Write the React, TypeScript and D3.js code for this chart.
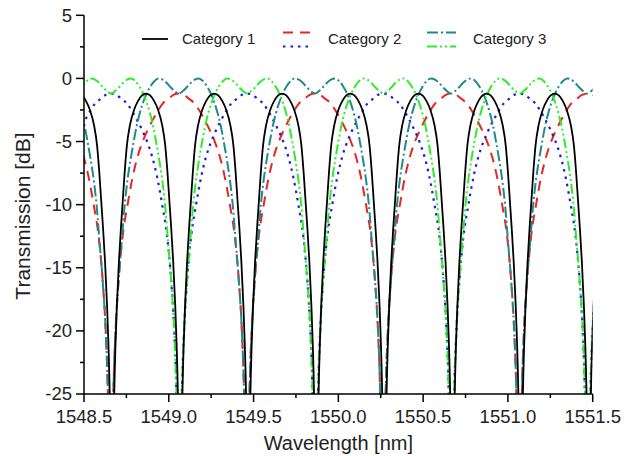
import React from "react";
import * as d3 from "d3";

// ---- data ----
// lobe profiles: [offset from the lobe's left null (nm), transmission (dB)]
const cat1Lobe: [number, number][] = [
  [0, -45], [0.006, -32], [0.012, -26], [0.021, -21], [0.029, -18], [0.041, -14.5],
  [0.053, -11.8], [0.062, -10], [0.075, -7.4], [0.088, -5.3], [0.106, -3.7], [0.13, -2.5],
  [0.153, -1.8], [0.177, -1.35], [0.201, -1.2], [0.225, -1.35], [0.249, -1.8], [0.272, -2.5],
  [0.296, -3.7], [0.314, -5.3], [0.327, -7.4], [0.34, -10], [0.349, -11.8], [0.361, -14.5],
  [0.373, -18], [0.381, -21], [0.39, -26], [0.396, -32],
];
const cat2Lobe: [number, number][] = [
  [0, -45], [0.009, -30], [0.018, -24], [0.029, -20], [0.047, -16], [0.071, -12.5],
  [0.1, -10], [0.13, -7.8], [0.159, -6.2], [0.189, -5.0], [0.218, -4.1], [0.248, -3.3],
  [0.277, -2.6], [0.307, -2.0], [0.342, -1.6], [0.371, -1.3], [0.4015, -1.2],
  [0.432, -1.3], [0.461, -1.6], [0.496, -2.0], [0.526, -2.6], [0.555, -3.3], [0.585, -4.1],
  [0.614, -5.0], [0.644, -6.2], [0.673, -7.8], [0.703, -10], [0.732, -12.5], [0.756, -16],
  [0.774, -20], [0.785, -24], [0.794, -30],
];
const cat3Lobe: [number, number][] = [
  [0, -45], [0.009, -30], [0.018, -24], [0.029, -20], [0.047, -16], [0.065, -13],
  [0.083, -10], [0.1, -8], [0.118, -6.4], [0.136, -5], [0.153, -3.8], [0.171, -2.8],
  [0.189, -2.0], [0.212, -1.2], [0.236, -0.6], [0.259, -0.2], [0.283, 0.0], [0.307, -0.1],
  [0.33, -0.35], [0.354, -0.7], [0.377, -1.0], [0.4015, -1.2],
  [0.426, -1.0], [0.449, -0.7], [0.473, -0.35], [0.496, -0.1], [0.52, 0.0], [0.544, -0.2],
  [0.567, -0.6], [0.591, -1.2], [0.614, -2.0], [0.632, -2.8], [0.65, -3.8], [0.667, -5],
  [0.685, -6.4], [0.703, -8], [0.72, -10], [0.738, -13], [0.756, -16], [0.774, -20],
  [0.785, -24], [0.794, -30],
];

// null positions (nm) where each lobe starts
const cat1Nulls = [1548.263, 1548.665, 1549.067, 1549.468, 1549.87, 1550.271, 1550.673, 1551.075, 1551.476];
const cat2aNulls = [1547.854, 1548.657, 1549.46, 1550.263, 1551.066]; // red dashed
const cat2bNulls = [1548.258, 1549.061, 1549.864, 1550.667, 1551.47]; // blue dotted
const cat3aNulls = [1547.854, 1548.657, 1549.46, 1550.263, 1551.066]; // teal dash-dot
const cat3bNulls = [1548.258, 1549.061, 1549.864, 1550.667, 1551.47]; // green dash-dot-dot

const xTicks = [1548.5, 1549.0, 1549.5, 1550.0, 1550.5, 1551.0, 1551.5];
const xMinor = [1548.75, 1549.25, 1549.75, 1550.25, 1550.75, 1551.25];
const yTicks = [-25, -20, -15, -10, -5, 0, 5];
const yMinor = [-22.5, -17.5, -12.5, -7.5, -2.5, 2.5];

const W = 624;
const H = 456;
const L = 84;
const R = 592.7;
const T = 15.3;
const B = 394;

const FONT = "'Liberation Sans', Arial, sans-serif";

function build(nulls: number[], lobe: [number, number][]): [number, number][] {
  return nulls.flatMap((n) => lobe.map(([dx, v]) => [n + dx, v] as [number, number]));
}

const series = [
  { key: "red", data: build(cat2aNulls, cat2Lobe), color: "#e8261e", dash: "10,7", w: 2 },
  { key: "blue", data: build(cat2bNulls, cat2Lobe), color: "#1c1ce0", dash: "2.5,5", w: 2.2 },
  { key: "teal", data: build(cat3aNulls, cat3Lobe), color: "#1f8a8c", dash: "11,3,2,3", w: 2 },
  { key: "green", data: build(cat3bNulls, cat3Lobe), color: "#2bee2b", dash: "10,3,2,3,2,3", w: 2 },
  { key: "black", data: build(cat1Nulls, cat1Lobe), color: "#000000", dash: "none", w: 1.8 },
];

export default function App() {
  const x = d3.scaleLinear().domain([1548.5, 1551.5]).range([L, R]);
  const y = d3.scaleLinear().domain([-25, 5]).range([B, T]);
  const line = d3
    .line<[number, number]>()
    .x((d) => x(d[0]))
    .y((d) => y(d[1]))
    .curve(d3.curveMonotoneX);

  const legendLine = (x1: number, x2: number, yy: number, color: string, dash: string, w: number) => (
    <line x1={x1} x2={x2} y1={yy} y2={yy} stroke={color} strokeWidth={w} strokeDasharray={dash} />
  );

  return (
    <svg width={W} height={H} style={{ position: "absolute", left: 0, top: 0, background: "#fff" }} fontFamily={FONT}>
      <defs>
        <clipPath id="plot">
          <rect x={L} y={T} width={R - L} height={B - T} />
        </clipPath>
      </defs>
      <g clipPath="url(#plot)">
        {series.map((s) => (
          <path
            key={s.key}
            d={line(s.data) || ""}
            fill="none"
            stroke={s.color}
            strokeWidth={s.w}
            strokeDasharray={s.dash}
          />
        ))}
      </g>
      {/* axes */}
      <line x1={L} x2={L} y1={T} y2={B} stroke="#000" strokeWidth={1.5} />
      <line x1={L} x2={R} y1={B} y2={B} stroke="#000" strokeWidth={1.5} />
      {yTicks.map((t) => (
        <g key={"y" + t}>
          <line x1={L - 8} x2={L} y1={y(t)} y2={y(t)} stroke="#000" strokeWidth={1.5} />
          <text x={L - 12} y={y(t)} dy="0.35em" textAnchor="end" fontSize={18.5} fill="#222">
            {t}
          </text>
        </g>
      ))}
      {yMinor.map((t) => (
        <line key={"ym" + t} x1={L - 4} x2={L} y1={y(t)} y2={y(t)} stroke="#000" strokeWidth={1.5} />
      ))}
      {xTicks.map((t) => (
        <g key={"x" + t}>
          <line x1={x(t)} x2={x(t)} y1={B} y2={B + 8} stroke="#000" strokeWidth={1.5} />
          <text x={x(t)} y={B + 29} textAnchor="middle" fontSize={18.5} fill="#222">
            {t.toFixed(1)}
          </text>
        </g>
      ))}
      {xMinor.map((t) => (
        <line key={"xm" + t} x1={x(t)} x2={x(t)} y1={B} y2={B + 4} stroke="#000" strokeWidth={1.5} />
      ))}
      <text x={(L + R) / 2} y={450} textAnchor="middle" fontSize={20} fill="#222">
        Wavelength [nm]
      </text>
      <text
        transform={`translate(30, 216) rotate(-90)`}
        textAnchor="middle"
        fontSize={21}
        fill="#222"
      >
        Transmission [dB]
      </text>
      {/* legend */}
      {legendLine(142, 168, 39, "#000", "none", 1.8)}
      <text x={182} y={39} dy="0.35em" fontSize={15} fill="#222">Category 1</text>
      {legendLine(283, 311, 32.5, "#e8261e", "10,7", 2)}
      {legendLine(283, 311, 46.5, "#1c1ce0", "2.5,5", 2.2)}
      <text x={328} y={39} dy="0.35em" fontSize={15} fill="#222">Category 2</text>
      {legendLine(427, 456, 32.5, "#1f8a8c", "11,3,2,3", 2)}
      {legendLine(427, 456, 46.5, "#2bee2b", "10,3,2,3,2,3", 2)}
      <text x={473} y={39} dy="0.35em" fontSize={15} fill="#222">Category 3</text>
    </svg>
  );
}
